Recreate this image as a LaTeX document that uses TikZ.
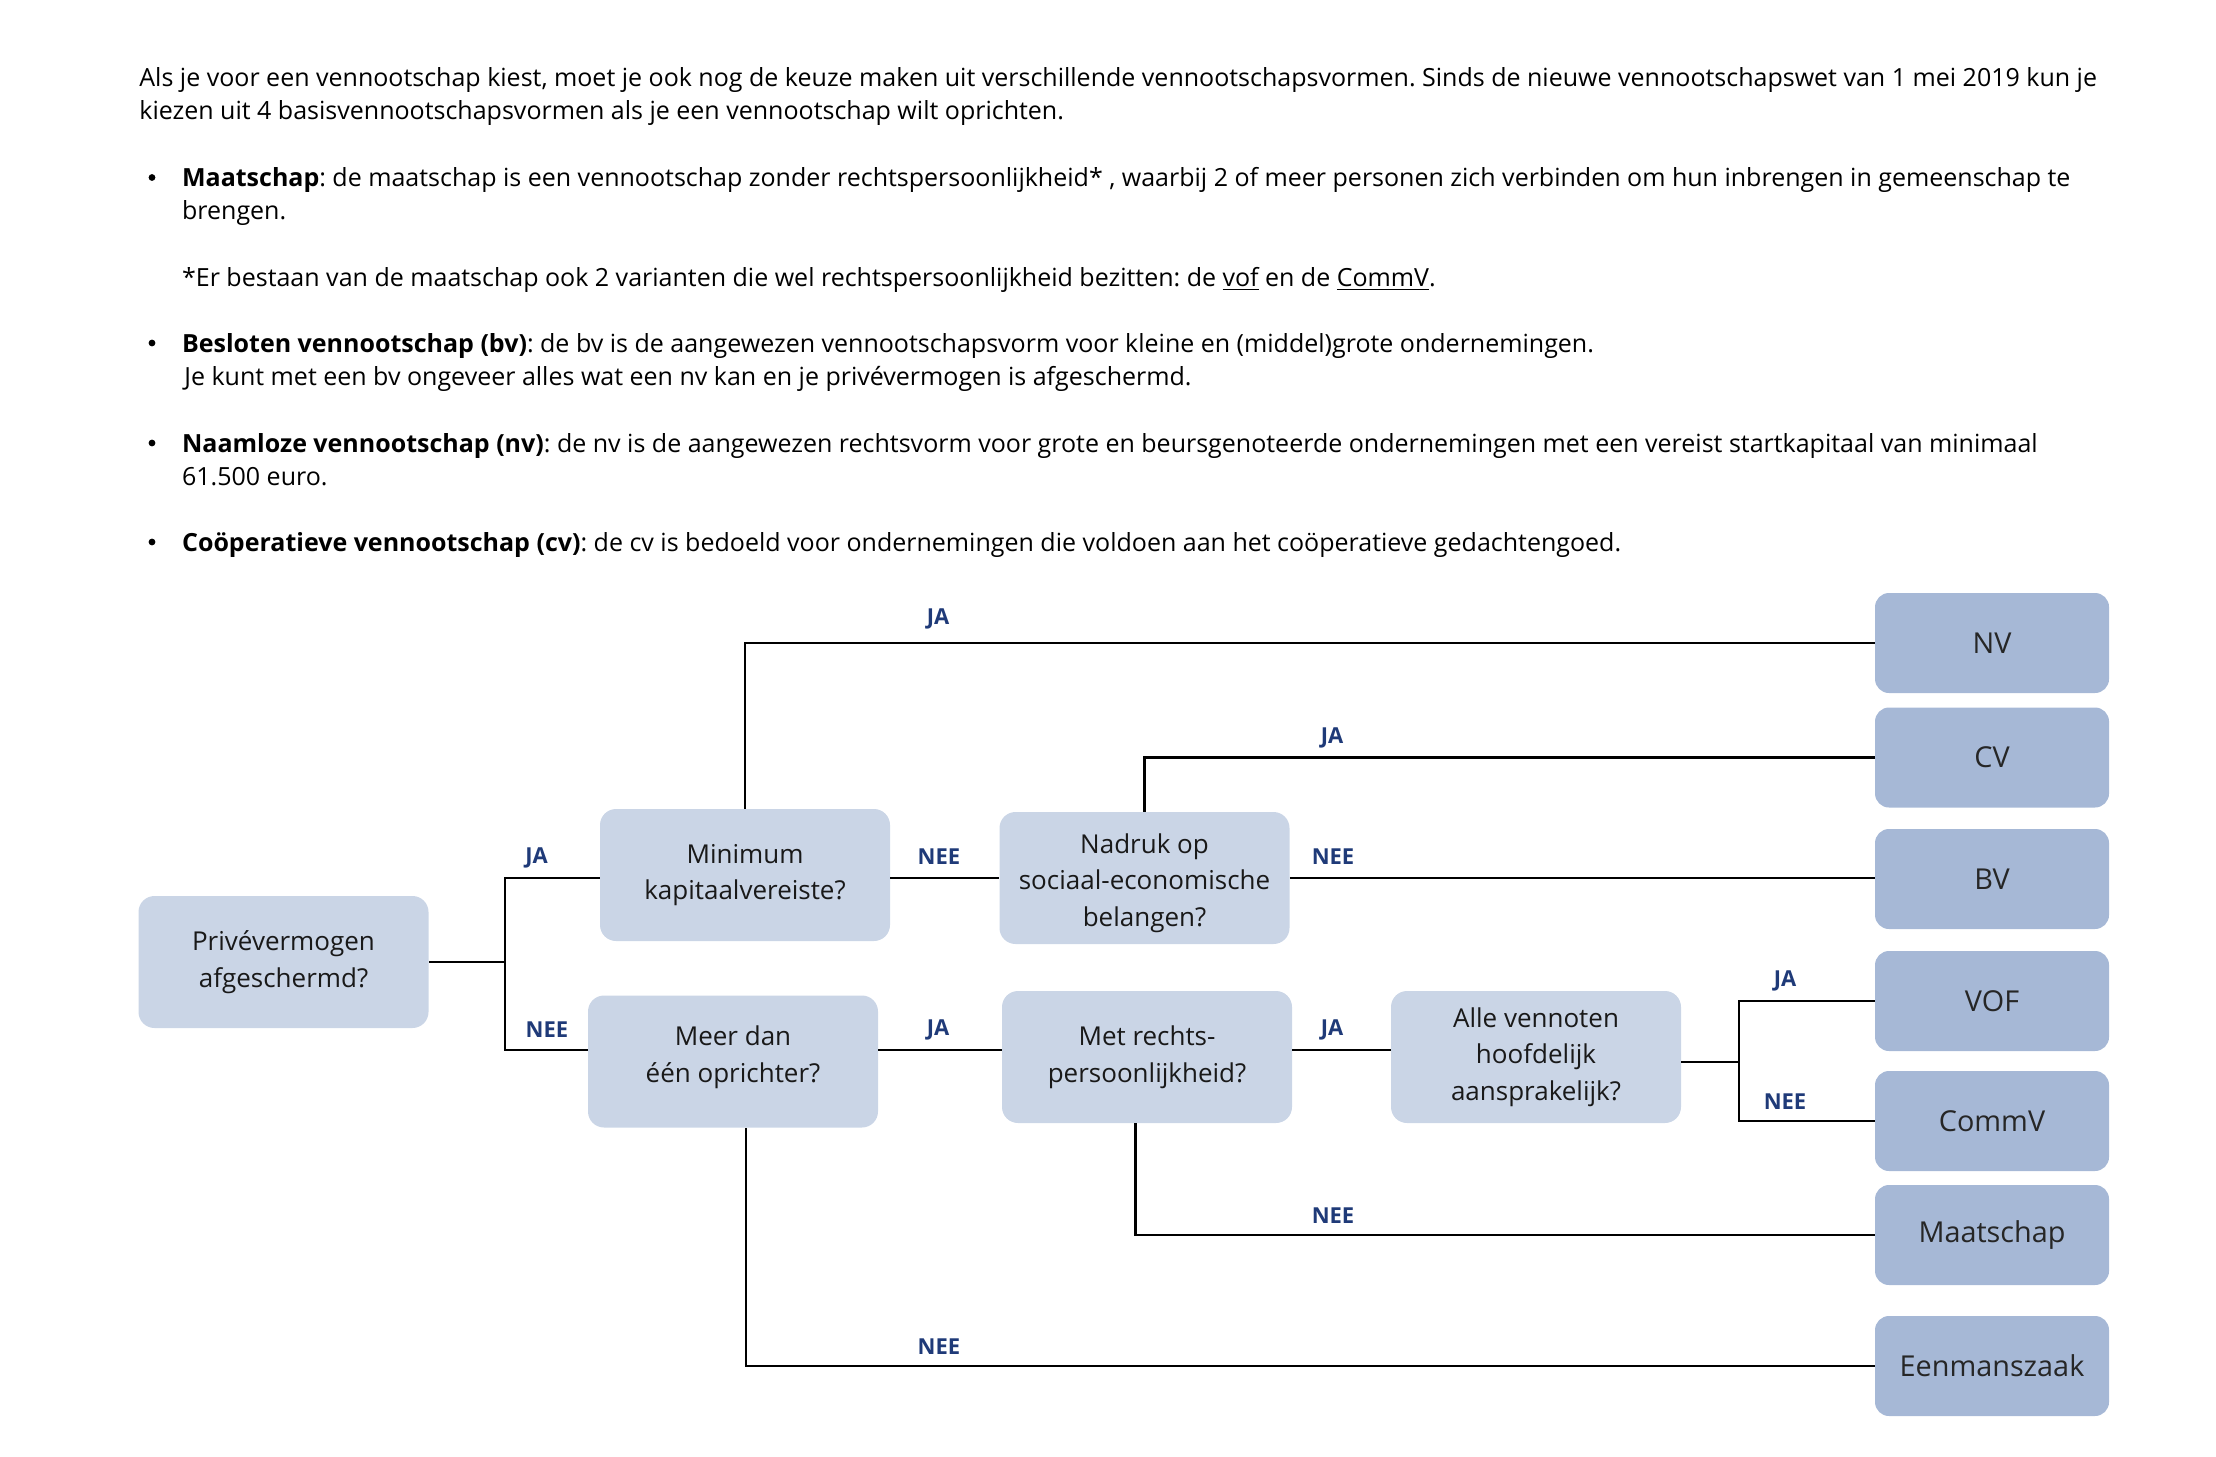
\documentclass[tikz,border=0pt]{standalone}
\usepackage{fontspec}
\setmainfont{Open Sans}
\definecolor{qbox}{HTML}{CAD5E6}
\definecolor{rbox}{HTML}{A6B8D6}
\definecolor{labc}{HTML}{1F3A78}
\tikzset{
  qnode/.style={fill=qbox, rounded corners=8pt, minimum width=145pt, minimum height=66pt,
    align=center, inner sep=0pt, font=\fontsize{13}{18.3}\selectfont, text=black!90},
  rnode/.style={fill=rbox, rounded corners=7pt, minimum width=117pt, minimum height=50pt,
    inner sep=0pt, font=\fontsize{14.4}{18}\selectfont, text=black!85},
  lbl/.style={text=labc, font=\bfseries\fontsize{11}{13}\selectfont, inner sep=0pt},
  conn/.style={line width=1.25pt, black},
  body/.style={anchor=base west, inner sep=0pt, font=\frenchspacing\fontsize{12.5}{16}\selectfont},
  bul/.style={circle, fill=black, inner sep=0pt, minimum size=3.4pt},
}
\begin{document}
\begin{tikzpicture}[x=0.5pt,y=-0.5pt]
\useasboundingbox (0,0) rectangle (2216,1456);
% ---- body text
\node[body] (t1) at (139,86) {Als je voor een vennootschap kiest, moet je ook nog de keuze maken uit verschillende vennootschapsvormen. Sinds de nieuwe vennootschapswet van 1 mei 2019 kun je};
\node[body] (t2) at (139,119.5) {kiezen uit 4 basisvennootschapsvormen als je een vennootschap wilt oprichten.};
\node[bul] (b1) at (152,177.5) {};
\node[body] (t3) at (181.7,186.4) {\textbf{Maatschap}: de maatschap is een vennootschap zonder rechtspersoonlijkheid* , waarbij 2 of meer personen zich verbinden om hun inbrengen in gemeenschap te};
\node[body] (t4) at (181.7,219.4) {brengen.};
\node[body] (t5) at (181.7,286.5) {*Er bestaan van de maatschap ook 2 varianten die wel rechtspersoonlijkheid bezitten: de \underline{vof} en de \underline{CommV}.};
\node[bul] (b2) at (152,343) {};
\node[body] (t6) at (181.7,352) {\textbf{Besloten vennootschap (bv)}: de bv is de aangewezen vennootschapsvorm voor kleine en (middel)grote ondernemingen.};
\node[body] (t7) at (184,385) {Je kunt met een bv ongeveer alles wat een nv kan en je privévermogen is afgeschermd.};
\node[bul] (b3) at (152,443) {};
\node[body] (t8) at (181.7,452) {\textbf{Naamloze vennootschap (nv)}: de nv is de aangewezen rechtsvorm voor grote en beursgenoteerde ondernemingen met een vereist startkapitaal van minimaal};
\node[body] (t9) at (181.7,485) {61.500 euro.};
\node[bul] (b4) at (152,542) {};
\node[body] (t10) at (181.7,551) {\textbf{Coöperatieve vennootschap (cv)}: de cv is bedoeld voor ondernemingen die voldoen aan het coöperatieve gedachtengoed.};
% ---- question boxes
\node[qnode] (prive) at (283.5,962) {Privévermogen\\afgeschermd?};
\node[qnode] (minimum) at (745,875) {Minimum\\kapitaalvereiste?};
\node[qnode] (nadruk) at (1144.5,878) {\rule{0pt}{14.9pt}Nadruk op\\sociaal-economische\\belangen?};
\node[qnode] (meer) at (733,1061.5) {Meer dan\\één oprichter?\rule[-7.1pt]{0pt}{7.1pt}};
\node[qnode] (met) at (1147,1057) {Met rechts-\\persoonlijkheid?};
\node[qnode] (alle) at (1536,1057) {Alle vennoten\\hoofdelijk\\aansprakelijk?};
% ---- result boxes
\node[rnode] (nv) at (1992,643) {NV};
\node[rnode] (cv) at (1992,757.5) {CV};
\node[rnode] (bv) at (1992,879) {BV};
\node[rnode] (vof) at (1992,1001) {VOF};
\node[rnode] (commv) at (1992,1121) {CommV};
\node[rnode] (maat) at (1992,1235) {Maatschap};
\node[rnode] (een) at (1992,1366) {Eenmanszaak};
% ---- helper coordinates
\coordinate (j1) at (505,962);
\coordinate (rBV) at (0,878);
\coordinate (rLow) at (0,1050);
\coordinate (xMeer) at (746,0);
\coordinate (xMet) at (1135.5,0);
\coordinate (j2) at (1739,1062);
% ---- connectors
\draw[conn] (prive.east) -- (prive.east -| j1);
\draw[conn] (minimum.west |- rBV) -| (j1) |- (meer.west |- rLow);
\draw[conn] (minimum.north) |- (nv.west);
\draw[conn] (minimum.east |- rBV) -- (nadruk.west |- rBV);
\draw[conn] (nadruk.north) |- (cv.west);
\draw[conn] (nadruk.east) -- (nadruk.east -| bv.west);
\draw[conn] (meer.east |- rLow) -- (met.west |- rLow);
\draw[conn] (meer.south -| xMeer) |- (een.west);
\draw[conn] (met.east |- rLow) -- (alle.west |- rLow);
\draw[conn] (met.south -| xMet) |- (maat.west);
\draw[conn] (alle.east |- j2) -- (j2);
\draw[conn] (vof.west) -| (j2) |- (commv.west);
% ---- labels
\node[lbl] (l1) at (536.5,858) {JA};
\node[lbl] (l2) at (547,1030) {NEE};
\node[lbl] (l3) at (938,619) {JA};
\node[lbl] (l4) at (939,857) {NEE};
\node[lbl] (l5) at (1332,738) {JA};
\node[lbl] (l6) at (1333,857) {NEE};
\node[lbl] (l7) at (938,1030) {JA};
\node[lbl] (l8) at (1332,1030) {JA};
\node[lbl] (l9) at (1785,981) {JA};
\node[lbl] (l10) at (1785,1101.6) {NEE};
\node[lbl] (l11) at (1333,1216) {NEE};
\node[lbl] (l12) at (939,1347) {NEE};
\end{tikzpicture}
\end{document}
